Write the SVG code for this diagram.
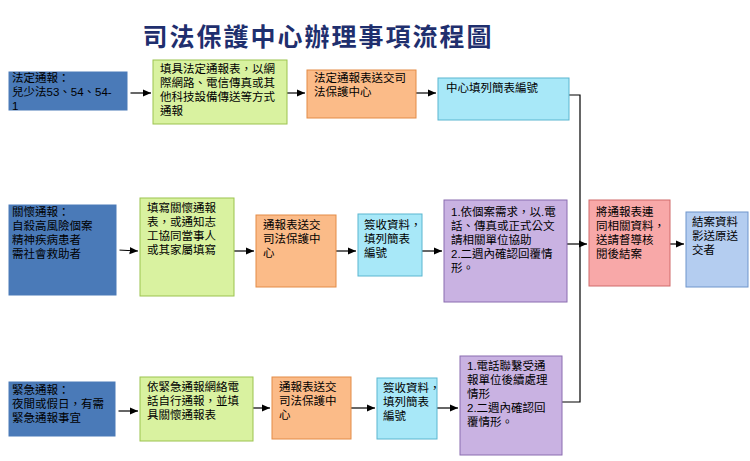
<svg xmlns="http://www.w3.org/2000/svg" width="750" height="461" viewBox="0 0 750 461">
<style>
text{font-family:"Liberation Sans","Noto Sans CJK TC",sans-serif;font-size:11.5px;fill:#000}
.c line,.c polyline{stroke:#000;stroke-width:1.2;fill:none}
.dk{fill:#4a7ab8;stroke:#fff;stroke-width:3}
.gr{fill:#d9f2a0;stroke:#9bc34f}
.or{fill:#fbbb88;stroke:#e38b46}
.cy{fill:#a8e8f8;stroke:#5ab6d0}
.pu{fill:#c9b2e2;stroke:#8a6cb0}
.rd{fill:#f8a8a8;stroke:#d06a6a}
.lb{fill:#b4cdf0;stroke:#6f95cc}
</style>
<defs><marker id="a" markerWidth="8" markerHeight="8" refX="7" refY="4" orient="auto"><path d="M0,1 L7,4 L0,7z" fill="#000"/></marker></defs>
<text x="318" y="46" text-anchor="middle" style="font-size:25px;font-weight:bold;fill:#1f2f6e;letter-spacing:2px">司法保護中心辦理事項流程圖</text>
<g class="c">
<line x1="129" y1="93" x2="151" y2="93" marker-end="url(#a)"/>
<line x1="287" y1="93" x2="305" y2="93" marker-end="url(#a)"/>
<line x1="416" y1="93" x2="436" y2="93" marker-end="url(#a)"/>
<polyline points="569,95 580,95 580,402 562,402"/>
<line x1="118" y1="250" x2="138" y2="251" marker-end="url(#a)"/>
<line x1="234" y1="251" x2="254" y2="251" marker-end="url(#a)"/>
<line x1="336" y1="251" x2="356" y2="251" marker-end="url(#a)"/>
<line x1="422" y1="251" x2="442" y2="251" marker-end="url(#a)"/>
<line x1="567" y1="244" x2="587" y2="244" marker-end="url(#a)"/>
<line x1="670" y1="244" x2="684" y2="244" marker-end="url(#a)"/>
<line x1="117" y1="411" x2="138" y2="411" marker-end="url(#a)"/>
<line x1="253" y1="408" x2="270" y2="408" marker-end="url(#a)"/>
<line x1="351" y1="408" x2="375" y2="408" marker-end="url(#a)"/>
<line x1="437" y1="408" x2="458" y2="408" marker-end="url(#a)"/>
</g>
<g id="n1"><rect class="dk" x="7" y="70" width="122" height="42"/><text x="12" y="82">法定通報：</text><text x="12" y="96">兒少法53、54、54-</text><text x="12" y="110">1</text></g>
<g id="n2"><rect class="gr" x="153" y="60" width="134" height="64"/><text x="160" y="73">填具法定通報表，以網</text><text x="160" y="87">際網路、電信傳真或其</text><text x="160" y="101">他科技設備傳送等方式</text><text x="160" y="115">通報</text></g>
<g id="n3"><rect class="or" x="307" y="70" width="109" height="48"/><text x="314" y="82">法定通報表送交司</text><text x="314" y="96">法保護中心</text></g>
<g id="n4"><rect class="cy" x="438" y="78" width="131" height="42"/><text x="446" y="92">中心填列簡表編號</text></g>
<g id="n5"><rect class="dk" x="7" y="203" width="111" height="94"/><text x="12" y="216">關懷通報：</text><text x="12" y="230">自殺高風險個案</text><text x="12" y="244">精神疾病患者</text><text x="12" y="258">需社會救助者</text></g>
<g id="n6"><rect class="gr" x="140" y="198" width="94" height="98"/><text x="147" y="212">填寫關懷通報</text><text x="147" y="226">表，或通知志</text><text x="147" y="240">工協同當事人</text><text x="147" y="254">或其家屬填寫</text></g>
<g id="n7"><rect class="or" x="256" y="215" width="80" height="72"/><text x="263" y="229">通報表送交</text><text x="263" y="243">司法保護中</text><text x="263" y="257">心</text></g>
<g id="n8"><rect class="cy" x="358" y="214" width="64" height="62"/><text x="364" y="229">簽收資料，</text><text x="364" y="243">填列簡表</text><text x="364" y="257">編號</text></g>
<g id="n9"><rect class="pu" x="444" y="200" width="123" height="102"/><text x="451" y="216">1.依個案需求，以.電</text><text x="451" y="230">話、傳真或正式公文</text><text x="451" y="244">請相關單位協助</text><text x="451" y="258">2.二週內確認回覆情</text><text x="451" y="272">形。</text></g>
<g id="n10"><rect class="rd" x="589" y="200" width="81" height="86"/><text x="596" y="216">將通報表連</text><text x="596" y="230">同相關資料，</text><text x="596" y="244">送請督導核</text><text x="596" y="258">閱後結案</text></g>
<g id="n11"><rect class="lb" x="686" y="212" width="62" height="75"/><text x="692" y="226">結案資料</text><text x="692" y="240">影送原送</text><text x="692" y="254">交者</text></g>
<g id="n12"><rect class="dk" x="7" y="380" width="110" height="58"/><text x="12" y="394">緊急通報：</text><text x="12" y="408">夜間或假日，有需</text><text x="12" y="422">緊急通報事宜</text></g>
<g id="n13"><rect class="gr" x="140" y="377" width="113" height="64"/><text x="147" y="391">依緊急通報網絡電</text><text x="147" y="405">話自行通報，並填</text><text x="147" y="419">具關懷通報表</text></g>
<g id="n14"><rect class="or" x="272" y="377" width="79" height="62"/><text x="279" y="391">通報表送交</text><text x="279" y="405">司法保護中</text><text x="279" y="419">心</text></g>
<g id="n15"><rect class="cy" x="377" y="378" width="60" height="61"/><text x="383" y="392">簽收資料，</text><text x="383" y="406">填列簡表</text><text x="383" y="420">編號</text></g>
<g id="n16"><rect class="pu" x="460" y="356" width="102" height="99"/><text x="467" y="370">1.電話聯繫受通</text><text x="467" y="384">報單位後續處理</text><text x="467" y="398">情形</text><text x="467" y="412">2.二週內確認回</text><text x="467" y="426">覆情形。</text></g>
</svg>
